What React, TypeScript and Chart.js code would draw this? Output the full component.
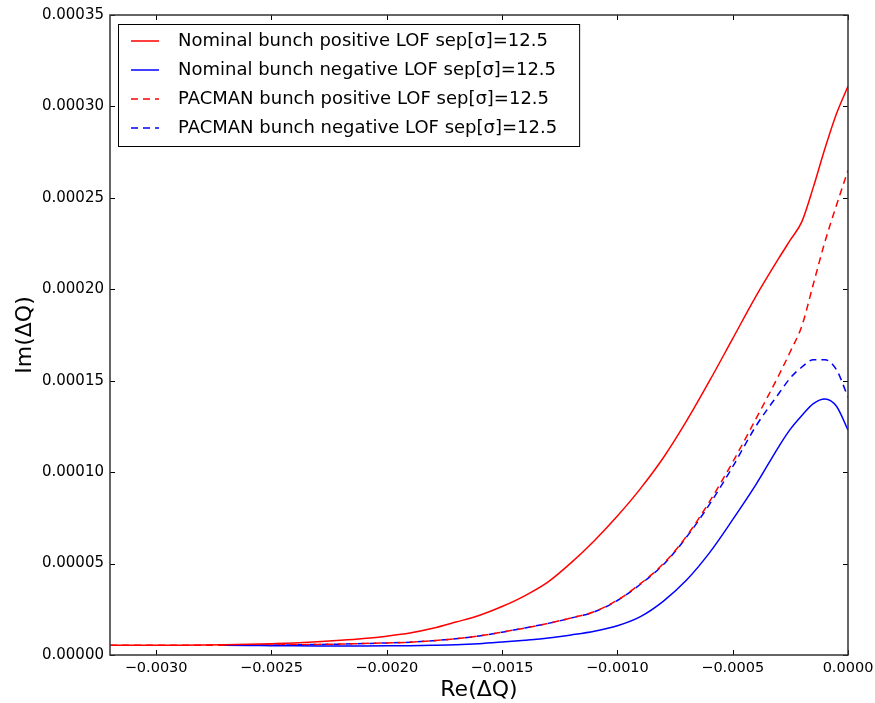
import React, { useEffect, useRef } from "react";
import { Chart, registerables } from "chart.js";

Chart.register(...registerables);

// Re(ΔQ) sample positions shared by all series
const reDeltaQ = [
  -0.0032, -0.0031, -0.003, -0.0029, -0.0028, -0.0027, -0.0026, -0.0025, -0.0024,
  -0.0023, -0.0022, -0.0021, -0.002, -0.0019, -0.0018, -0.0017, -0.0016, -0.0015,
  -0.0014, -0.0013, -0.0012, -0.0011, -0.001, -0.0009, -0.0008, -0.0007, -0.0006,
  -0.0005, -0.0004, -0.0003, -0.00025, -0.0002, -0.00015, -0.0001, -0.00005, 0,
];

// Im(ΔQ) values
const nominalPositive = [
  5.3e-6, 5.3e-6, 5.3e-6, 5.35e-6, 5.45e-6, 5.6e-6, 5.85e-6, 6.2e-6, 6.6e-6,
  7.2e-6, 8.0e-6, 9.0e-6, 10.3e-6, 12.0e-6, 14.6e-6, 18.0e-6, 21.6e-6, 26.5e-6,
  32.5e-6, 40.0e-6, 50.5e-6, 62.5e-6, 76.0e-6, 91.0e-6, 108.0e-6, 128.0e-6, 150.0e-6,
  173.0e-6, 196.0e-6, 217.0e-6, 227.0e-6, 237.0e-6, 256.0e-6, 277.0e-6, 296.0e-6, 311.0e-6,
];

const nominalNegative = [
  null, null, null, null, null, 5.3e-6, 5.2e-6, 5.1e-6, 5.0e-6,
  4.95e-6, 4.95e-6, 4.95e-6, 5.0e-6, 5.1e-6, 5.3e-6, 5.6e-6, 6.2e-6, 7.1e-6,
  8.1e-6, 9.3e-6, 11.0e-6, 13.0e-6, 16.0e-6, 21.0e-6, 29.5e-6, 41.0e-6, 56.0e-6,
  74.0e-6, 93.0e-6, 114.0e-6, 123.5e-6, 131.0e-6, 137.5e-6, 140.0e-6, 136.0e-6, 123.0e-6,
];

const pacmanPositive = [
  5.3e-6, 5.3e-6, 5.3e-6, 5.3e-6, 5.3e-6, 5.35e-6, 5.4e-6, 5.5e-6, 5.6e-6,
  5.8e-6, 6.0e-6, 6.3e-6, 6.6e-6, 7.0e-6, 7.8e-6, 8.9e-6, 10.4e-6, 12.5e-6,
  14.8e-6, 17.3e-6, 20.3e-6, 23.7e-6, 30.0e-6, 39.0e-6, 50.0e-6, 65.0e-6, 84.0e-6,
  105.5e-6, 129.0e-6, 153.0e-6, 166.0e-6, 180.0e-6, 203.0e-6, 226.0e-6, 246.0e-6, 265.0e-6,
];

const pacmanNegative = [
  null, null, null, null, null, 5.3e-6, 5.35e-6, 5.45e-6, 5.55e-6,
  5.75e-6, 5.95e-6, 6.25e-6, 6.6e-6, 7.0e-6, 7.8e-6, 8.9e-6, 10.4e-6, 12.5e-6,
  14.8e-6, 17.3e-6, 20.2e-6, 23.6e-6, 29.8e-6, 38.7e-6, 49.5e-6, 64.5e-6, 82.5e-6,
  103.0e-6, 125.0e-6, 143.0e-6, 151.5e-6, 157.5e-6, 161.5e-6, 161.5e-6, 156.0e-6, 141.0e-6,
];

const seriesLabels = [
  "Nominal bunch positive LOF sep[σ]=12.5",
  "Nominal bunch negative LOF sep[σ]=12.5",
  "PACMAN bunch positive LOF sep[σ]=12.5",
  "PACMAN bunch negative LOF sep[σ]=12.5",
];

const xTickValues = [-0.003, -0.0025, -0.002, -0.0015, -0.001, -0.0005, 0];
const yTickValues = [0, 0.00005, 0.0001, 0.00015, 0.0002, 0.00025, 0.0003, 0.00035];

const FONT = "'DejaVu Sans', 'Liberation Sans', sans-serif";
const DASH = [7, 5];

function toPoints(ys: (number | null)[]) {
  return reDeltaQ.map((x, i) => ({ x, y: ys[i] }));
}

const framePlugin = {
  id: "mplFrame",
  afterDatasetsDraw(chart: any) {
    const { ctx, chartArea: a } = chart;
    const xs = chart.scales.x;
    const ys = chart.scales.y;
    ctx.save();
    // inward ticks on all four sides
    ctx.strokeStyle = "#000";
    ctx.lineWidth = 1;
    const tl = 5;
    ctx.beginPath();
    for (const v of xTickValues) {
      const px = Math.round(xs.getPixelForValue(v)) + 0.5;
      ctx.moveTo(px, a.bottom);
      ctx.lineTo(px, a.bottom - tl);
      ctx.moveTo(px, a.top);
      ctx.lineTo(px, a.top + tl);
    }
    for (const v of yTickValues) {
      const py = Math.round(ys.getPixelForValue(v)) + 0.5;
      ctx.moveTo(a.left, py);
      ctx.lineTo(a.left + tl, py);
      ctx.moveTo(a.right, py);
      ctx.lineTo(a.right - tl, py);
    }
    ctx.stroke();
    // frame
    ctx.strokeStyle = "#333";
    ctx.lineWidth = 1.5;
    ctx.strokeRect(a.left, a.top, a.right - a.left, a.bottom - a.top);

    // legend
    ctx.font = `18px ${FONT}`;
    const datasets = chart.data.datasets;
    let maxW = 0;
    for (const ds of datasets) maxW = Math.max(maxW, ctx.measureText(ds.label).width);
    const bx = a.left + 8;
    const by = a.top + 9;
    const bw = 60 + maxW + 22;
    const bh = 122;
    ctx.fillStyle = "#fff";
    ctx.fillRect(bx, by, bw, bh);
    ctx.strokeStyle = "#000";
    ctx.lineWidth = 1;
    ctx.strokeRect(Math.round(bx) + 0.5, Math.round(by) + 0.5, bw, bh);
    ctx.textBaseline = "middle";
    ctx.textAlign = "left";
    datasets.forEach((ds: any, i: number) => {
      const cy = by + 17 + i * 29;
      ctx.strokeStyle = ds.borderColor;
      ctx.lineWidth = 1.5;
      ctx.setLineDash(ds.borderDash || []);
      ctx.beginPath();
      ctx.moveTo(bx + 13, cy);
      ctx.lineTo(bx + 41, cy);
      ctx.stroke();
      ctx.setLineDash([]);
      ctx.fillStyle = "#000";
      ctx.fillText(ds.label, bx + 60, cy);
    });
    ctx.restore();
  },
};

export default function App() {
  const canvasRef = useRef<HTMLCanvasElement | null>(null);

  useEffect(() => {
    if (!canvasRef.current) return;
    const chart = new Chart(canvasRef.current, {
      type: "line",
      data: {
        datasets: [
          { label: seriesLabels[0], data: toPoints(nominalPositive), borderColor: "#ff0000" },
          { label: seriesLabels[1], data: toPoints(nominalNegative), borderColor: "#0000ff" },
          { label: seriesLabels[2], data: toPoints(pacmanPositive), borderColor: "#ff0000", borderDash: DASH },
          { label: seriesLabels[3], data: toPoints(pacmanNegative), borderColor: "#0000ff", borderDash: DASH },
        ].map((d) => ({
          ...d,
          borderWidth: 1.5,
          pointRadius: 0,
          pointHoverRadius: 0,
          cubicInterpolationMode: "monotone",
          fill: false,
          spanGaps: false,
        })),
      },
      options: {
        animation: false,
        responsive: true,
        maintainAspectRatio: false,
        events: [],
        layout: { padding: { top: 15, right: 27, left: 0, bottom: 0 } },
        plugins: {
          legend: { display: false },
          tooltip: { enabled: false },
          title: { display: false },
        },
        scales: {
          x: {
            type: "linear",
            min: -0.0032,
            max: 0,
            grid: { display: false, drawTicks: false },
            border: { display: false },
            afterBuildTicks: (scale: any) => {
              scale.ticks = xTickValues.map((value) => ({ value }));
            },
            afterFit: (scale: any) => {
              scale.height = 48;
              scale.paddingLeft = 0;
              scale.paddingRight = 0;
            },
            ticks: {
              padding: 5,
              color: "#000",
              font: { family: FONT, size: 14.5 },
              maxRotation: 0,
              autoSkip: false,
              callback: (v: any) => Number(v).toFixed(4).replace("-", "\u2212"),
            },
            title: {
              display: true,
              text: "Re(ΔQ)",
              color: "#000",
              font: { family: FONT, size: 22 },
              padding: { top: 0, bottom: 0 },
            },
          },
          y: {
            type: "linear",
            min: 0,
            max: 0.00035,
            grid: { display: false, drawTicks: false },
            border: { display: false },
            afterBuildTicks: (scale: any) => {
              scale.ticks = yTickValues.map((value) => ({ value }));
            },
            afterFit: (scale: any) => {
              scale.width = 110;
              scale.paddingTop = 0;
              scale.paddingBottom = 0;
            },
            ticks: {
              padding: 6,
              color: "#000",
              font: { family: FONT, size: 15 },
              autoSkip: false,
              callback: (v: any) => Number(v).toFixed(5),
            },
            title: {
              display: true,
              text: "Im(ΔQ)",
              color: "#000",
              font: { family: FONT, size: 22 },
              padding: { top: 12, bottom: 0 },
            },
          },
        },
      },
      plugins: [framePlugin],
    });
    return () => chart.destroy();
  }, []);

  return (
    <div style={{ position: "absolute", left: 0, top: 0, width: 875, height: 703, background: "#fff" }}>
      <canvas ref={canvasRef} />
    </div>
  );
}
